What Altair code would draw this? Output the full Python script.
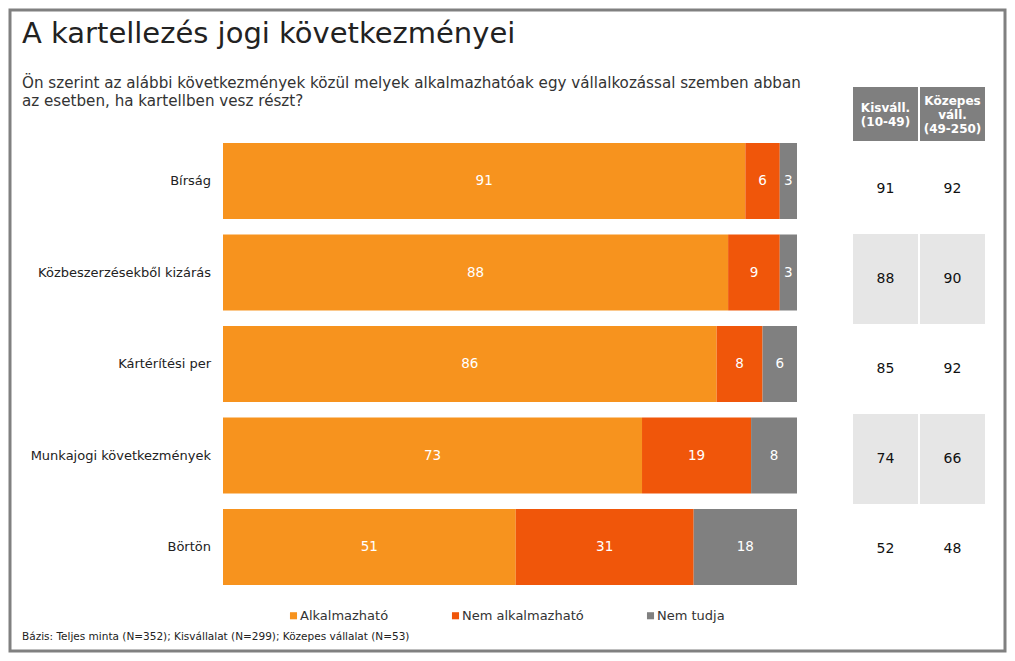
import altair as alt
import pandas as pd

# ---- data ----
items = ["Bírság", "Közbeszerzésekből kizárás", "Kártérítési per",
         "Munkajogi következmények", "Börtön"]
series = ["Alkalmazható", "Nem alkalmazható", "Nem tudja"]
alkalmazhato = [91, 88, 86, 73, 51]
nem_alkalmazhato = [6, 9, 8, 19, 31]
nem_tudja = [3, 3, 6, 8, 18]
colors = ["#F7931E", "#F0560A", "#808080"]

table_keys = ["kis", "koz"]
table_headers = ["Kisváll.\n(10-49)", "Közepes\nváll.\n(49-250)"]
kisvall = [91, 88, 85, 74, 52]
kozepes = [92, 90, 92, 66, 48]
shaded = [False, True, False, True, False]

title = "A kartellezés jogi következményei"
subtitle = ("Ön szerint az alábbi következmények közül melyek alkalmazhatóak egy vállalkozással szemben abban\n"
            "az esetben, ha kartellben  vesz részt?")
footnote = "Bázis: Teljes minta (N=352); Kisvállalat (N=299); Közepes vállalat (N=53)"

# ---- tables ----
rows = []
for i, it in enumerate(items):
    for k, (s, vals) in enumerate(zip(series, [alkalmazhato, nem_alkalmazhato, nem_tudja])):
        rows.append({"item": it, "series": s, "value": vals[i], "order": k})
bar_df = pd.DataFrame(rows)

trows = []
for i, it in enumerate(items):
    for key, vals in zip(table_keys, [kisvall, kozepes]):
        trows.append({"row": it, "col": key, "val": vals[i], "shade": shaded[i]})
table_df = pd.DataFrame(trows)
header_df = pd.DataFrame({"col": table_keys, "label": table_headers})

FONT = "DejaVu Sans"

# ---- bar part ----
xs = alt.Scale(domain=[0, 100], range=[213, 787], nice=False, zero=True)
ys = alt.Scale(domain=items, range=[125.25, 582.75], paddingInner=0.17, paddingOuter=0.085)

base = alt.Chart(bar_df).transform_stack(
    stack="value", as_=["v0", "v1"], groupby=["item"],
    sort=[alt.SortField("order", order="ascending")]
).transform_calculate(mid="(datum.v0 + datum.v1) / 2")

bars = base.mark_bar().encode(
    x=alt.X("v0:Q", scale=xs, axis=None),
    x2="v1:Q",
    y=alt.Y("item:N", scale=ys, axis=None),
    color=alt.Color("series:N", scale=alt.Scale(domain=series, range=colors),
                    legend=alt.Legend(title=None, orient="none", legendX=277, legendY=599,
                                      direction="horizontal", symbolType="square",
                                      symbolSize=50, symbolStrokeWidth=0,
                                      columnPadding=60, labelFontSize=13,
                                      labelFont=FONT, labelColor="#333333",
                                      labelOffset=0)),
)
bar_text = base.mark_text(color="white", fontSize=13.5, baseline="middle").encode(
    x=alt.X("mid:Q", scale=xs, axis=None),
    y=alt.Y("item:N", scale=ys, axis=None),
    text="value:Q",
)
cat_labels = alt.Chart(pd.DataFrame({"item": items})).mark_text(
    align="right", baseline="middle", fontSize=13, color="#222222"
).encode(x=alt.value(201), y=alt.Y("item:N", scale=ys, axis=None), text="item:N")

bar_layer = alt.layer(bars, bar_text, cat_labels)

# ---- table part ----
tx = alt.Scale(domain=table_keys, range=[843, 975], paddingInner=0.03, paddingOuter=0)
ty = alt.Scale(domain=items, range=[134, 584], paddingInner=0, paddingOuter=0)

shade = alt.Chart(table_df).transform_filter("datum.shade").mark_rect(color="#E6E6E6").encode(
    x=alt.X("col:N", scale=tx, axis=None),
    y=alt.Y("row:N", scale=ty, axis=None),
)
header_rect = alt.Chart(header_df).mark_rect(color="#7F7F7F").encode(
    x=alt.X("col:N", scale=tx, axis=None),
    y=alt.value(77), y2=alt.value(131),
)


def header_text(key, y0):
    return alt.Chart(header_df).transform_filter(alt.datum.col == key).mark_text(
        color="white", fontWeight="bold", fontSize=12, lineBreak="\n", lineHeight=14,
        baseline="middle", align="center"
    ).encode(x=alt.X("col:N", scale=tx, axis=None), y=alt.value(y0), text="label:N")


values = alt.Chart(table_df).mark_text(fontSize=14, color="#111111", baseline="middle").encode(
    x=alt.X("col:N", scale=tx, axis=None),
    y=alt.Y("row:N", scale=ty, axis=None),
    text="val:Q",
)
table_layer = alt.layer(shade, header_rect, header_text("kis", 98), header_text("koz", 91), values)

# ---- texts ----
title_layer = alt.Chart(pd.DataFrame({"t": [title]})).mark_text(
    align="left", baseline="alphabetic", fontSize=29, color="#222222"
).encode(x=alt.value(12), y=alt.value(33), text="t:N")
sub_layer = alt.Chart(pd.DataFrame({"t": [subtitle]})).mark_text(
    align="left", baseline="middle", fontSize=15.15, color="#333333", lineBreak="\n", lineHeight=18
).encode(x=alt.value(12), y=alt.value(73), text="t:N")
foot_layer = alt.Chart(pd.DataFrame({"t": [footnote]})).mark_text(
    align="left", baseline="middle", fontSize=10.5, color="#222222"
).encode(x=alt.value(12), y=alt.value(627), text="t:N")

chart = alt.layer(title_layer, sub_layer, foot_layer, bar_layer, table_layer).resolve_scale(
    x="independent", y="independent"
).properties(
    width=995, height=641,
    autosize=alt.AutoSizeParams(type="none"),
    padding={"left": 2, "top": 2, "right": 2, "bottom": 2},
    background="white",
).configure(font=FONT).configure_view(stroke="#808080", strokeWidth=3)

chart.save("out.html", embed_options={"renderer": "svg", "actions": False})
